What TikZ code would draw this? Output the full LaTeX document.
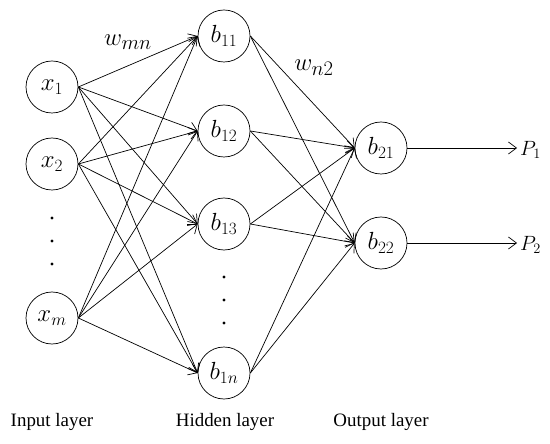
\documentclass[tikz,border=0pt]{standalone}
\usepackage{fontspec}
\setmainfont{Liberation Serif}
\usetikzlibrary{arrows.meta}
\begin{document}
\begin{tikzpicture}[x=1bp,y=-1bp,
  neuron/.style={circle,draw,line width=0.7bp,minimum size=52bp,inner sep=0pt,font=\fontsize{27}{29}\selectfont},
  conn/.style={line width=0.7bp,-{Straight Barb[length=8bp,width=12bp,line width=0.7bp]}},
  layerlbl/.style={font=\fontsize{19}{22}\selectfont},
  wlbl/.style={font=\fontsize{28}{30}\selectfont},
  plbl/.style={font=\fontsize{22}{24}\selectfont,anchor=west,inner sep=1bp},
  dotmark/.style={circle,fill,inner sep=0pt,minimum size=3.2bp}]
\useasboundingbox (0,0) rectangle (550,444);
% input layer
\node[neuron] (x1) at (52,87) {$x_1$};
\node[neuron] (x2) at (52,164) {$x_2$};
\node[neuron] (xm) at (52,318) {$x_m$};
\node[dotmark] (d1) at (52,218) {};
\node[dotmark] (d2) at (52,241) {};
\node[dotmark] (d3) at (52,264) {};
% hidden layer
\node[neuron] (b11) at (224,36) {$b_{11}$};
\node[neuron] (b12) at (224,131) {$b_{12}$};
\node[neuron] (b13) at (224,224) {$b_{13}$};
\node[neuron] (b1n) at (224,373) {$b_{1n}$};
\node[dotmark] (e1) at (224,277) {};
\node[dotmark] (e2) at (224,300) {};
\node[dotmark] (e3) at (224,323) {};
% output layer
\node[neuron] (b21) at (381,148) {$b_{21}$};
\node[neuron] (b22) at (381,243) {$b_{22}$};
% connections
\foreach \i in {x1,x2,xm}
  \foreach \j in {b11,b12,b13,b1n}
    \draw[conn] (\i.east) -- (\j.west);
\foreach \i in {b11,b12,b13,b1n}
  \foreach \j in {b21,b22}
    \draw[conn] (\i.east) -- (\j.west);
% outputs
\coordinate (p1end) at (517,148);
\coordinate (p2end) at (517,243);
\draw[conn] (b21.east) -- (p1end);
\draw[conn] (b22.east) -- (p2end);
\node[plbl] (P1) at (519,150) {$P_1$};
\node[plbl] (P2) at (519,245) {$P_2$};
% weights
\node[wlbl] (wmn) at (128,42) {$w_{mn}$};
\node[wlbl] (wn2) at (314,68) {$w_{n2}$};
% layer labels
\node[layerlbl] (inl) at (52,422) {Input layer};
\node[layerlbl] (hidl) at (225,422) {Hidden layer};
\node[layerlbl] (outl) at (381,422) {Output layer};
\end{tikzpicture}
\end{document}
